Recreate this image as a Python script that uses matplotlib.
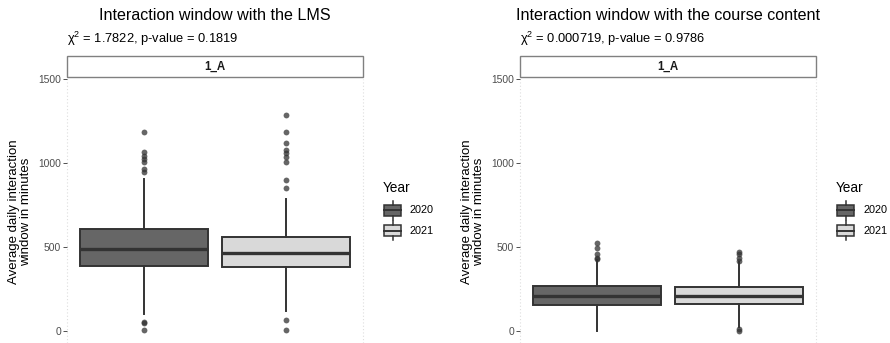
import matplotlib
matplotlib.use("Agg")
import matplotlib.pyplot as plt
from matplotlib.patches import Rectangle
from matplotlib.lines import Line2D

plt.rcParams['font.family'] = ['Liberation Sans', 'DejaVu Sans']
plt.rcParams['mathtext.fontset'] = 'custom'
plt.rcParams['mathtext.rm'] = 'Liberation Sans'
plt.rcParams['mathtext.it'] = 'Liberation Sans'

# ---- data -------------------------------------------------------------
years = ["2020", "2021"]
titles = ["Interaction window with the LMS",
          "Interaction window with the course content"]
chi2_values = ["1.7822", "0.000719"]
p_values = ["0.1819", "0.9786"]
facet_label = "1_A"
y_ticks = [0, 500, 1000, 1500]

# LMS window (minutes): box statistics per year
lms_q1 = [389, 379]
lms_med = [486, 464]
lms_q3 = [605, 558]
lms_whislo = [101, 121]
lms_whishi = [905, 786]
lms_out_2020 = [1186, 1063, 1043, 1024, 1004, 962, 945, 52, 45, 6]
lms_out_2021 = [1286, 1183, 1121, 1077, 1061, 1034, 1004, 899, 849, 67, 6]

# Course content window (minutes): box statistics per year
content_q1 = [157, 161]
content_med = [210, 210]
content_q3 = [268, 264]
content_whislo = [0, 25]
content_whishi = [425, 410]
content_out_2020 = [522, 496, 456, 436, 429]
content_out_2021 = [468, 456, 436, 417, 10, 2]

# ---- styling ----------------------------------------------------------
W, H = 890, 343
FILLS = ["#666666", "#d9d9d9"]
EDGE = "#333333"
fig = plt.figure(figsize=(W / 100, H / 100), dpi=100)


def rect(x0, y0, x1, y1):
    """Pixel box (top-left origin) -> figure fraction [l, b, w, h]."""
    return [x0 / W, 1 - y1 / H, (x1 - x0) / W, (y1 - y0) / H]


def fx(x):
    return x / W


def fy(y):
    return 1 - y / H


def make_stats(q1, med, q3, lo, hi, outs):
    stats = []
    for i in range(len(years)):
        stats.append(dict(q1=q1[i], med=med[i], q3=q3[i],
                          whislo=lo[i], whishi=hi[i], fliers=outs[i]))
    return stats


panels = [
    dict(x0=67, stats=make_stats(lms_q1, lms_med, lms_q3, lms_whislo, lms_whishi,
                                 [lms_out_2020, lms_out_2021])),
    dict(x0=520, stats=make_stats(content_q1, content_med, content_q3,
                                  content_whislo, content_whishi,
                                  [content_out_2020, content_out_2021])),
]

PANEL_W = 296
for k, pan in enumerate(panels):
    x0 = pan["x0"]
    x1 = x0 + PANEL_W
    ax = fig.add_axes(rect(x0, 79, x1, 343))
    ax.set_xlim(0.4, 1.6)
    ax.set_ylim(-71.4, 1500)
    for s in ax.spines.values():
        s.set_visible(False)
    for xv in (0.4, 1.6):
        ax.axvline(xv, color="#dedede", lw=0.8, ls=(0, (1, 2)), clip_on=False, zorder=0)

    bp = ax.bxp(pan["stats"], positions=[0.7125, 1.2875], widths=0.52,
                patch_artist=True, showcaps=False,
                boxprops=dict(edgecolor=EDGE, linewidth=1.4),
                medianprops=dict(color=EDGE, linewidth=2.4, solid_capstyle="butt"),
                whiskerprops=dict(color=EDGE, linewidth=1.4),
                flierprops=dict(marker="o", markerfacecolor=EDGE,
                                markeredgecolor="none", markersize=4.2, alpha=0.75))
    for box, c in zip(bp["boxes"], FILLS):
        box.set_facecolor(c)

    ax.set_xticks([])
    ax.set_yticks(y_ticks)
    ax.set_yticklabels([str(t) for t in y_ticks])
    ax.tick_params(axis="y", length=2.6, width=0.6, color=EDGE,
                   labelcolor="#4d4d4d", labelsize=7.4, pad=1.5)

    # facet strip
    sax = fig.add_axes(rect(x0, 56, x1, 77))
    sax.set_xlim(0, 1)
    sax.set_ylim(0, 1)
    sax.axis("off")
    sax.add_patch(Rectangle((0, 0), 1, 1, facecolor="white", edgecolor="#808080",
                            lw=1.0, transform=sax.transAxes, clip_on=False))
    sax.text(0.5, 0.5, facet_label, ha="center", va="center",
             fontsize=8.3, fontweight="bold", color="#1a1a1a")

    # titles
    cx = (x0 + x1) / 2
    fig.text(fx(cx), fy(15), titles[k], ha="center", va="center",
             fontsize=11.6, color="black")
    fig.text(fx(x0), fy(39),
             "\u03c7$^{2}$ = " + chi2_values[k] + ", p-value = " + p_values[k],
             ha="left", va="center", fontsize=9.3, color="black")

    # y-axis title
    fig.text(fx(x0 - 47), fy(212), "Average daily interaction\nwindow in minutes",
             rotation=90, ha="center", va="center", fontsize=9.5,
             linespacing=0.98, color="black")

    # legend
    lx = x0 + 317
    fig.text(fx(lx - 1), fy(188), "Year", ha="left", va="center",
             fontsize=9.8, color="black")
    for i, yr in enumerate(years):
        top = 205 + i * 20
        bot = top + 11
        kx0, kx1 = lx, lx + 17
        kc = (kx0 + kx1) / 2
        fig.add_artist(Rectangle((fx(kx0), fy(bot)), fx(kx1) - fx(kx0), fy(top) - fy(bot),
                                 facecolor=FILLS[i], edgecolor=EDGE, lw=1.1,
                                 transform=fig.transFigure))
        mid = (top + bot) / 2
        fig.add_artist(Line2D([fx(kx0), fx(kx1)], [fy(mid), fy(mid)], color=EDGE,
                              lw=1.4, transform=fig.transFigure))
        fig.add_artist(Line2D([fx(kc), fx(kc)], [fy(top - 4), fy(top)], color=EDGE,
                              lw=1.1, transform=fig.transFigure))
        fig.add_artist(Line2D([fx(kc), fx(kc)], [fy(bot), fy(bot + 4)], color=EDGE,
                              lw=1.1, transform=fig.transFigure))
        fig.text(fx(lx + 26), fy(mid), yr, ha="left", va="center",
                 fontsize=7.8, color="black")

fig.savefig("out.png", dpi=100)
